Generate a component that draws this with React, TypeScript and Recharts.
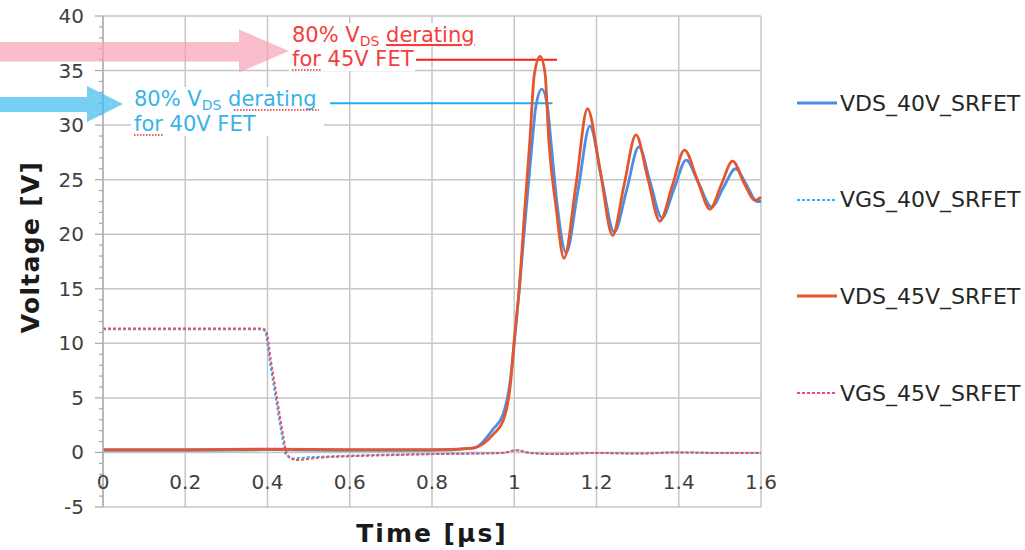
import React from 'react';
import { LineChart, Line, XAxis, YAxis, CartesianGrid, ReferenceLine } from 'recharts';

// axis ticks
const xTicks = [0, 0.2, 0.4, 0.6, 0.8, 1, 1.2, 1.4, 1.6];
const yMajor = [-5, 0, 5, 10, 15, 20, 25, 30, 35, 40];
const yMinor = Array.from({ length: 46 }, (_, i) => i - 5);

// VDS of the 40V SR FET (blue, solid)
const vds40Time = [0, 0.2, 0.4, 0.6, 0.8, 0.9, 0.95, 0.973, 0.99, 1.0, 1.012, 1.026, 1.044, 1.052, 1.067, 1.081, 1.089, 1.105, 1.126, 1.155, 1.184, 1.213, 1.243, 1.273, 1.303, 1.331, 1.359, 1.389, 1.418, 1.449, 1.48, 1.509, 1.538, 1.565, 1.59, 1.6];
const vds40Volt = [0.2, 0.2, 0.25, 0.2, 0.2, 0.4, 2.2, 3.5, 6.5, 10, 14.8, 21.0, 28.6, 31.6, 33.3, 31.6, 28.6, 22.5, 18.3, 24, 29.9, 25, 20.2, 24, 28.0, 24.7, 21.5, 24.2, 26.8, 24.6, 22.5, 24.3, 26.0, 24.5, 23.0, 23.0];

// VGS of the 40V SR FET (light blue, dotted)
const vgs40Time = [0, 0.2, 0.385, 0.394, 0.405, 0.42, 0.435, 0.445, 0.46, 0.5, 0.6, 0.7, 0.8, 0.9, 0.97, 1.005, 1.04, 1.1, 1.2, 1.3, 1.4, 1.5, 1.6];
const vgs40Volt = [11.3, 11.3, 11.3, 11.1, 8.5, 5.0, 1.6, -0.2, -0.55, -0.45, -0.3, -0.2, -0.15, -0.1, -0.05, 0.2, -0.05, -0.15, -0.05, -0.1, 0, -0.05, -0.05];

// VDS of the 45V SR FET (orange, solid)
const vds45Time = [0, 0.2, 0.4, 0.6, 0.8, 0.9, 0.95, 0.973, 0.99, 1.0, 1.012, 1.026, 1.038, 1.049, 1.063, 1.075, 1.084, 1.1015, 1.121, 1.15, 1.178, 1.209, 1.239, 1.267, 1.296, 1.325, 1.354, 1.384, 1.414, 1.445, 1.476, 1.503, 1.531, 1.56, 1.585, 1.6];
const vds45Volt = [0.25, 0.25, 0.3, 0.25, 0.25, 0.4, 1.7, 2.9, 6.0, 10.3, 15.0, 22.5, 28.6, 34.7, 36.3, 34.7, 28.6, 22.5, 17.8, 24.5, 31.5, 25.8, 19.9, 24.5, 29.1, 25.1, 21.2, 24.4, 27.7, 25, 22.3, 24.5, 26.7, 24.6, 23.1, 23.4];

// VGS of the 45V SR FET (red, dotted)
const vgs45Time = [0, 0.2, 0.388, 0.397, 0.408, 0.423, 0.438, 0.448, 0.47, 0.52, 0.6, 0.7, 0.8, 0.9, 0.97, 1.005, 1.04, 1.1, 1.2, 1.3, 1.4, 1.5, 1.6];
const vgs45Volt = [11.35, 11.35, 11.35, 11.1, 8.5, 5.0, 1.6, -0.2, -0.7, -0.5, -0.35, -0.25, -0.15, -0.1, -0.05, 0.2, -0.05, -0.15, -0.05, -0.1, 0, -0.05, -0.05];

// 80% derating levels
const derate45 = { volt: 36, from: 0.761, to: 1.104 };
const derate40 = { volt: 32, from: 0.552, to: 1.093 };

const series = [
  { name: 'VDS_40V_SRFET', time: vds40Time, volt: vds40Volt, color: '#4a8ee6', width: 2.8, dash: undefined },
  { name: 'VGS_40V_SRFET', time: vgs40Time, volt: vgs40Volt, color: '#29b4ee', width: 2, dash: '3 2' },
  { name: 'VDS_45V_SRFET', time: vds45Time, volt: vds45Volt, color: '#e4572e', width: 2.8, dash: undefined },
  { name: 'VGS_45V_SRFET', time: vgs45Time, volt: vgs45Volt, color: '#f24d66', width: 2, dash: '3 2' },
];

const FONT = '"DejaVu Sans", Verdana, sans-serif';

const XTick = (props: any) => {
  const { x, y, payload } = props;
  return (
    <text x={x} y={y - 18} textAnchor="middle" fontSize={20} fontFamily={FONT} fill="#404040">
      {String(payload.value)}
    </text>
  );
};

const YTick = (props: any) => {
  const { x, y, payload } = props;
  const v = payload.value;
  const major = v % 5 === 0;
  return (
    <g>
      <line x1={x - (major ? 8 : 4)} x2={x} y1={y} y2={y} stroke="#a8a8a8" strokeWidth={1.2} />
      {major && (
        <text x={x - 19} y={y} dy="0.35em" textAnchor="end" fontSize={20} fontFamily={FONT} fill="#404040">
          {v}
        </text>
      )}
    </g>
  );
};

export default function App() {
  return (
    <div style={{ position: 'absolute', left: 0, top: 0, width: 1025, height: 550, background: '#fff', fontFamily: FONT }}>
      <LineChart width={1025} height={550} margin={{ top: 16, right: 264, bottom: 0, left: 0 }}>
        <CartesianGrid
          stroke="#c6c6c6"
          strokeWidth={1.5}
          horizontalValues={yMajor}
          verticalValues={xTicks}
        />
        <XAxis
          dataKey="t"
          type="number"
          domain={[0, 1.6]}
          ticks={xTicks}
          interval={0}
          height={43}
          axisLine={false}
          tickLine={false}
          tickSize={0}
          tickMargin={0}
          tick={<XTick />}
        />
        <YAxis
          type="number"
          domain={[-5, 40]}
          ticks={yMinor}
          interval={0}
          width={103}
          axisLine={{ stroke: '#b0b0b0', strokeWidth: 1.5 }}
          tickLine={false}
          tickSize={0}
          tickMargin={0}
          tick={<YTick />}
        />
        <ReferenceLine
          segment={[{ x: derate45.from, y: derate45.volt }, { x: derate45.to, y: derate45.volt }]}
          stroke="#ff1a1a"
          strokeWidth={2}
        />
        <ReferenceLine
          segment={[{ x: derate40.from, y: derate40.volt }, { x: derate40.to, y: derate40.volt }]}
          stroke="#1eaee8"
          strokeWidth={2}
        />
        {series.map((s) => (
          <Line
            key={s.name}
            name={s.name}
            data={s.time.map((t, i) => ({ t, v: s.volt[i] }))}
            dataKey="v"
            type="monotone"
            stroke={s.color}
            strokeWidth={s.width}
            strokeDasharray={s.dash}
            dot={false}
            activeDot={false}
            isAnimationActive={false}
          />
        ))}
      </LineChart>

      <svg width={1025} height={550} style={{ position: 'absolute', left: 0, top: 0, pointerEvents: 'none' }}>
        {/* arrows */}
        <polygon points="0,42 239,42 239,29.5 289,51 239,72.5 239,61.5 0,61.5" fill="#f7a3b8" opacity={0.72} />
        <polygon points="0,97 87,97 87,86 123,104 87,122 87,112 0,112" fill="#3dbbee" opacity={0.7} />

        {/* 45V annotation */}
        <rect x={289} y={23} width={192} height={24} fill="#fff" />
        <rect x={289} y={47} width={126} height={24} fill="#fff" />
        <text x={292} y={42} fontSize={21} fontFamily={FONT} fill="#f53d3d" style={{ whiteSpace: 'pre' }}>
          80% V<tspan fontSize={14} dy={4}>DS</tspan>
          <tspan dy={-4}> </tspan>
          <tspan textDecoration="underline">derating</tspan>
        </text>
        <text x={292} y={66} fontSize={21} fontFamily={FONT} fill="#f53d3d">for 45V FET</text>
        <line x1={292} x2={322} y1={70} y2={70} stroke="#e03030" strokeWidth={1.3} strokeDasharray="1.5 1.5" />

        {/* 40V annotation */}
        <rect x={131} y={87} width={193} height={49} fill="#fff" />
        <text x={134} y={106} fontSize={21} fontFamily={FONT} fill="#38b3e8" style={{ whiteSpace: 'pre' }}>
          80% V<tspan fontSize={14} dy={4}>DS</tspan>
          <tspan dy={-4}> </tspan>
          <tspan>derating</tspan>
        </text>
        <text x={134} y={131} fontSize={21} fontFamily={FONT} fill="#38b3e8">for 40V FET</text>
        <line x1={234} x2={319} y1={110} y2={110} stroke="#e03030" strokeWidth={1.3} strokeDasharray="1.5 1.5" />
        <line x1={134} x2={164} y1={135} y2={135} stroke="#e03030" strokeWidth={1.3} strokeDasharray="1.5 1.5" />

        {/* axis titles */}
        <text
          transform="translate(38.5,247) rotate(-90)"
          textAnchor="middle"
          fontSize={25}
          fontWeight="bold"
          fontFamily={FONT}
          letterSpacing={1.3}
          fill="#1a1a1a"
        >
          Voltage [V]
        </text>
        <text
          x={432}
          y={542}
          textAnchor="middle"
          fontSize={25}
          fontWeight="bold"
          fontFamily={FONT}
          letterSpacing={2}
          fill="#1a1a1a"
        >
          Time [µs]
        </text>
      </svg>

      {/* legend */}
      <div style={{ position: 'absolute', left: 797, top: 0 }}>
        {series.map((s, i) => (
          <div
            key={s.name}
            style={{ position: 'absolute', top: 103 + i * 96.7 - 13, left: 0, height: 26, display: 'flex', alignItems: 'center', whiteSpace: 'nowrap' }}
          >
            <svg width={42} height={6} style={{ display: 'block' }}>
              <line x1={0} x2={40} y1={3} y2={3} stroke={s.color} strokeWidth={s.dash ? 1.8 : 2.8} strokeDasharray={s.dash} />
            </svg>
            <span style={{ fontSize: 22, color: '#262626', fontFamily: FONT, marginLeft: 1 }}>{s.name}</span>
          </div>
        ))}
      </div>
    </div>
  );
}
